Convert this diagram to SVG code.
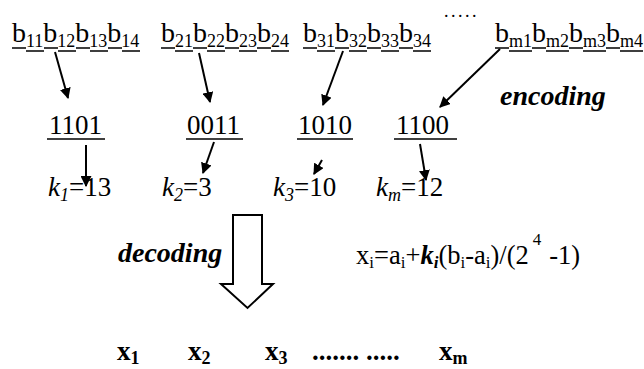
<svg xmlns="http://www.w3.org/2000/svg" width="644" height="369" viewBox="0 0 644 369">
<style>
text{font-family:"Liberation Serif","DejaVu Serif","Noto Serif",serif;fill:#000}
.m{font-size:28px}
.s{font-size:18px}
.n{font-size:27px}
.it{font-style:italic}
.bi{font-style:italic;font-weight:bold}
.b{font-weight:bold}
.ul{stroke:#000;stroke-width:1.4;fill:none}
.ar{stroke:#000;stroke-width:2;fill:none;marker-end:url(#ah)}
</style>
<defs>
<marker id="ah" viewBox="0 0 10 10" refX="9" refY="5" markerWidth="5.5" markerHeight="5.5" markerUnits="strokeWidth" orient="auto">
<path d="M0,0 L10,5 L0,10 z" fill="#000"/>
</marker>
</defs>
<rect width="644" height="369" fill="#fff"/>
<g font-family="Liberation Serif, serif">
<g id="bits1">
<text class="m" x="12" y="42">b<tspan class="s" dy="5">11</tspan><tspan dy="-5">b</tspan><tspan class="s" dy="5">12</tspan><tspan dy="-5">b</tspan><tspan class="s" dy="5">13</tspan><tspan dy="-5">b</tspan><tspan class="s" dy="5">14</tspan></text>
<path class="ul" d="M12 48H26M26 51H44M44 48H58M58 51H76M76 48H90M90 51H108M108 48H122M122 51H140"/>
</g>
<g id="bits2">
<text class="m" x="161" y="42">b<tspan class="s" dy="5">21</tspan><tspan dy="-5">b</tspan><tspan class="s" dy="5">22</tspan><tspan dy="-5">b</tspan><tspan class="s" dy="5">23</tspan><tspan dy="-5">b</tspan><tspan class="s" dy="5">24</tspan></text>
<path class="ul" d="M161 48H175M175 51H193M193 48H207M207 51H225M225 48H239M239 51H257M257 48H271M271 51H289"/>
</g>
<g id="bits3">
<text class="m" x="303" y="42">b<tspan class="s" dy="5">31</tspan><tspan dy="-5">b</tspan><tspan class="s" dy="5">32</tspan><tspan dy="-5">b</tspan><tspan class="s" dy="5">33</tspan><tspan dy="-5">b</tspan><tspan class="s" dy="5">34</tspan></text>
<path class="ul" d="M303 48H317M317 51H335M335 48H349M349 51H367M367 48H381M381 51H399M399 48H413M413 51H431"/>
</g>
<g id="dots-top"><text font-size="18" letter-spacing="2.5" x="444" y="17">.....</text></g>
<g id="bitsm">
<text class="m" x="495" y="42">b<tspan class="s" dy="5">m1</tspan><tspan dy="-5">b</tspan><tspan class="s" dy="5">m2</tspan><tspan dy="-5">b</tspan><tspan class="s" dy="5">m3</tspan><tspan dy="-5">b</tspan><tspan class="s" dy="5">m4</tspan></text>
<path class="ul" d="M495 48H509M509 51H532M532 48H546M546 51H569M569 48H583M583 51H606M606 48H620M620 51H643"/>
</g>
<g id="encoding-label"><text class="bi" font-size="28" x="500" y="105">encoding</text></g>
<g id="code1"><text class="n" x="49" y="134">1101</text><path class="ul" d="M47 139H105"/></g>
<g id="code2"><text class="n" x="187" y="134">0011</text><path class="ul" d="M186 139H243"/></g>
<g id="code3"><text class="n" x="298" y="134">1010</text><path class="ul" d="M297 139H353"/></g>
<g id="codem"><text class="n" x="396" y="134">1100</text><path class="ul" d="M394 139H457"/></g>
<g id="k1"><text class="n" x="48" y="196"><tspan class="it">k</tspan><tspan class="s it" dy="5">1</tspan><tspan dy="-5">=13</tspan></text></g>
<g id="k2"><text class="n" x="162" y="196"><tspan class="it">k</tspan><tspan class="s it" dy="5">2</tspan><tspan dy="-5">=3</tspan></text></g>
<g id="k3"><text class="n" x="273" y="196"><tspan class="it">k</tspan><tspan class="s it" dy="5">3</tspan><tspan dy="-5">=10</tspan></text></g>
<g id="km"><text class="n" x="376" y="196"><tspan class="it">k</tspan><tspan class="s it" dy="5">m</tspan><tspan dy="-5">=12</tspan></text></g>
<g id="decoding-label"><text class="bi" font-size="28" x="118" y="262">decoding</text></g>
<g id="formula"><text font-size="26.5" x="356" y="264">x<tspan font-size="17" dy="4">i</tspan><tspan dy="-4">=a</tspan><tspan font-size="17" dy="4">i</tspan><tspan dy="-4">+</tspan><tspan class="bi">k</tspan><tspan class="bi" font-size="17" dy="4">i</tspan><tspan dy="-4">(b</tspan><tspan font-size="17" dy="4">i</tspan><tspan dy="-4">-a</tspan><tspan font-size="17" dy="4">i</tspan><tspan dy="-4">)/(2</tspan><tspan font-size="17" dx="4" dy="-19">4</tspan><tspan dx="8" dy="19">-1)</tspan></text></g>
<g id="decode-arrow"><path d="M233 215H262V284H273L247.5 308L221 284H233Z" fill="#fff" stroke="#000" stroke-width="2"/></g>
<g id="x1"><text class="b" font-size="27" x="117" y="360">x<tspan font-size="18" dy="4">1</tspan></text></g>
<g id="x2"><text class="b" font-size="27" x="188" y="360">x<tspan font-size="18" dy="4">2</tspan></text></g>
<g id="x3"><text class="b" font-size="27" x="265" y="360">x<tspan font-size="18" dy="4">3</tspan></text></g>
<g id="dots-bottom"><text class="b" font-size="27" x="312" y="360">....... .....</text></g>
<g id="xm"><text class="b" font-size="27" x="439" y="360">x<tspan font-size="18" dy="4">m</tspan></text></g>
</g>
<g id="connectors">
<path class="ar" d="M55 52L68 98"/>
<path class="ar" d="M199 53L210 102"/>
<path class="ar" d="M343 51L323 105"/>
<path class="ar" d="M500 49L440 107"/>
<path class="ar" d="M86 145L86 186"/>
<path class="ar" d="M214 142L203 173"/>
<path class="ar" d="M322 160L314 174"/>
<path class="ar" d="M420 144L426 180"/>
</g>
</svg>
